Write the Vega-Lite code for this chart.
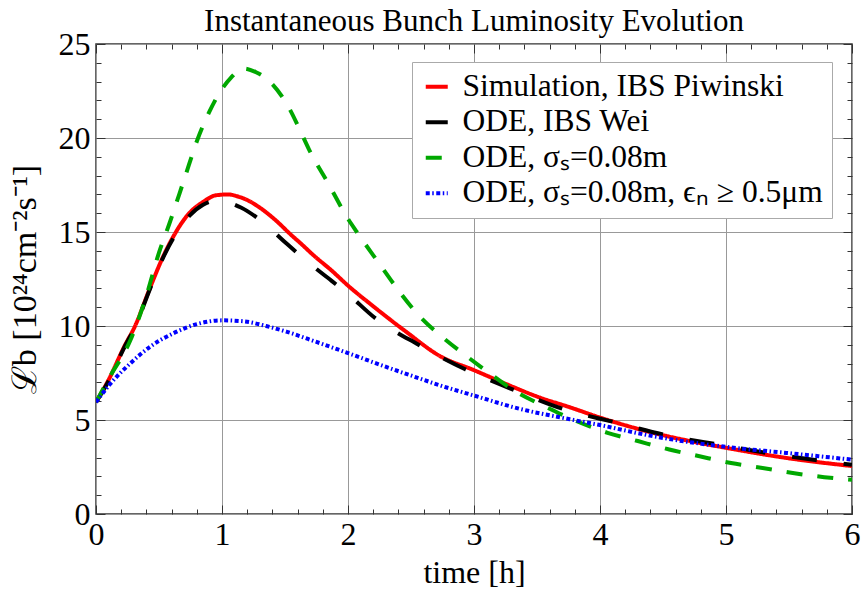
{
  "$schema": "https://vega.github.io/schema/vega-lite/v6.json",
  "width": 756,
  "height": 470,
  "autosize": {"type": "none"},
  "padding": {"left": 96, "top": 44, "right": 13, "bottom": 84},
  "background": "white",
  "config": {
    "font": "Liberation Serif",
    "view": {"stroke": "#333333", "strokeWidth": 1.5},
    "axis": {"tickColor": "#333333", "tickWidth": 1, "domain": false, "labelFlush": false, "labelOverlap": false}
  },
  "title": {
    "text": "Instantaneous Bunch Luminosity Evolution",
    "font": "Liberation Serif",
    "fontSize": 31,
    "fontWeight": "normal",
    "color": "#000000",
    "offset": -10
  },
  "datasets": {
    "curves": [
      {"t": 0, "L": 5.95, "series": "Simulation, IBS Piwinski"},
      {"t": 0.11, "L": 7.27, "series": "Simulation, IBS Piwinski"},
      {"t": 0.22, "L": 8.85, "series": "Simulation, IBS Piwinski"},
      {"t": 0.31, "L": 10.0, "series": "Simulation, IBS Piwinski"},
      {"t": 0.43, "L": 12.05, "series": "Simulation, IBS Piwinski"},
      {"t": 0.53, "L": 13.65, "series": "Simulation, IBS Piwinski"},
      {"t": 0.63, "L": 14.95, "series": "Simulation, IBS Piwinski"},
      {"t": 0.74, "L": 16.0, "series": "Simulation, IBS Piwinski"},
      {"t": 0.85, "L": 16.6, "series": "Simulation, IBS Piwinski"},
      {"t": 0.95, "L": 16.95, "series": "Simulation, IBS Piwinski"},
      {"t": 1.05, "L": 17.0, "series": "Simulation, IBS Piwinski"},
      {"t": 1.12, "L": 16.9, "series": "Simulation, IBS Piwinski"},
      {"t": 1.2, "L": 16.7, "series": "Simulation, IBS Piwinski"},
      {"t": 1.32, "L": 16.2, "series": "Simulation, IBS Piwinski"},
      {"t": 1.43, "L": 15.6, "series": "Simulation, IBS Piwinski"},
      {"t": 1.54, "L": 14.9, "series": "Simulation, IBS Piwinski"},
      {"t": 1.64, "L": 14.3, "series": "Simulation, IBS Piwinski"},
      {"t": 1.72, "L": 13.8, "series": "Simulation, IBS Piwinski"},
      {"t": 1.87, "L": 12.95, "series": "Simulation, IBS Piwinski"},
      {"t": 2.0, "L": 12.15, "series": "Simulation, IBS Piwinski"},
      {"t": 2.2, "L": 11.05, "series": "Simulation, IBS Piwinski"},
      {"t": 2.46, "L": 9.7, "series": "Simulation, IBS Piwinski"},
      {"t": 2.73, "L": 8.4, "series": "Simulation, IBS Piwinski"},
      {"t": 3.0, "L": 7.65, "series": "Simulation, IBS Piwinski"},
      {"t": 3.26, "L": 6.9, "series": "Simulation, IBS Piwinski"},
      {"t": 3.52, "L": 6.2, "series": "Simulation, IBS Piwinski"},
      {"t": 3.75, "L": 5.7, "series": "Simulation, IBS Piwinski"},
      {"t": 4.0, "L": 5.13, "series": "Simulation, IBS Piwinski"},
      {"t": 4.42, "L": 4.32, "series": "Simulation, IBS Piwinski"},
      {"t": 4.7, "L": 3.9, "series": "Simulation, IBS Piwinski"},
      {"t": 5.0, "L": 3.52, "series": "Simulation, IBS Piwinski"},
      {"t": 5.48, "L": 2.98, "series": "Simulation, IBS Piwinski"},
      {"t": 6.0, "L": 2.55, "series": "Simulation, IBS Piwinski"},

      {"t": 0, "L": 5.95, "series": "ODE, IBS Wei"},
      {"t": 0.11, "L": 7.2, "series": "ODE, IBS Wei"},
      {"t": 0.22, "L": 8.8, "series": "ODE, IBS Wei"},
      {"t": 0.31, "L": 9.95, "series": "ODE, IBS Wei"},
      {"t": 0.43, "L": 12.0, "series": "ODE, IBS Wei"},
      {"t": 0.53, "L": 13.6, "series": "ODE, IBS Wei"},
      {"t": 0.63, "L": 14.85, "series": "ODE, IBS Wei"},
      {"t": 0.74, "L": 15.85, "series": "ODE, IBS Wei"},
      {"t": 0.85, "L": 16.45, "series": "ODE, IBS Wei"},
      {"t": 0.94, "L": 16.65, "series": "ODE, IBS Wei"},
      {"t": 1.03, "L": 16.6, "series": "ODE, IBS Wei"},
      {"t": 1.15, "L": 16.3, "series": "ODE, IBS Wei"},
      {"t": 1.31, "L": 15.6, "series": "ODE, IBS Wei"},
      {"t": 1.51, "L": 14.4, "series": "ODE, IBS Wei"},
      {"t": 1.7, "L": 13.3, "series": "ODE, IBS Wei"},
      {"t": 1.87, "L": 12.4, "series": "ODE, IBS Wei"},
      {"t": 2.0, "L": 11.7, "series": "ODE, IBS Wei"},
      {"t": 2.21, "L": 10.45, "series": "ODE, IBS Wei"},
      {"t": 2.56, "L": 9.0, "series": "ODE, IBS Wei"},
      {"t": 2.93, "L": 7.7, "series": "ODE, IBS Wei"},
      {"t": 3.28, "L": 6.7, "series": "ODE, IBS Wei"},
      {"t": 3.7, "L": 5.6, "series": "ODE, IBS Wei"},
      {"t": 4.13, "L": 4.86, "series": "ODE, IBS Wei"},
      {"t": 4.52, "L": 4.2, "series": "ODE, IBS Wei"},
      {"t": 4.95, "L": 3.68, "series": "ODE, IBS Wei"},
      {"t": 5.37, "L": 3.2, "series": "ODE, IBS Wei"},
      {"t": 5.77, "L": 2.82, "series": "ODE, IBS Wei"},
      {"t": 6.0, "L": 2.62, "series": "ODE, IBS Wei"},

      {"t": 0, "L": 5.95, "series": "ODE, σₛ=0.08m"},
      {"t": 0.11, "L": 7.3, "series": "ODE, σₛ=0.08m"},
      {"t": 0.27, "L": 9.2, "series": "ODE, σₛ=0.08m"},
      {"t": 0.39, "L": 11.4, "series": "ODE, σₛ=0.08m"},
      {"t": 0.5, "L": 13.9, "series": "ODE, σₛ=0.08m"},
      {"t": 0.58, "L": 15.4, "series": "ODE, σₛ=0.08m"},
      {"t": 0.7, "L": 17.8, "series": "ODE, σₛ=0.08m"},
      {"t": 0.81, "L": 20.0, "series": "ODE, σₛ=0.08m"},
      {"t": 0.9, "L": 21.4, "series": "ODE, σₛ=0.08m"},
      {"t": 0.98, "L": 22.4, "series": "ODE, σₛ=0.08m"},
      {"t": 1.07, "L": 23.2, "series": "ODE, σₛ=0.08m"},
      {"t": 1.17, "L": 23.7, "series": "ODE, σₛ=0.08m"},
      {"t": 1.27, "L": 23.5, "series": "ODE, σₛ=0.08m"},
      {"t": 1.38, "L": 23.0, "series": "ODE, σₛ=0.08m"},
      {"t": 1.54, "L": 21.5, "series": "ODE, σₛ=0.08m"},
      {"t": 1.62, "L": 20.4, "series": "ODE, σₛ=0.08m"},
      {"t": 1.69, "L": 19.4, "series": "ODE, σₛ=0.08m"},
      {"t": 1.85, "L": 17.5, "series": "ODE, σₛ=0.08m"},
      {"t": 2.0, "L": 15.7, "series": "ODE, σₛ=0.08m"},
      {"t": 2.07, "L": 15.0, "series": "ODE, σₛ=0.08m"},
      {"t": 2.25, "L": 13.3, "series": "ODE, σₛ=0.08m"},
      {"t": 2.4, "L": 11.9, "series": "ODE, σₛ=0.08m"},
      {"t": 2.57, "L": 10.5, "series": "ODE, σₛ=0.08m"},
      {"t": 2.75, "L": 9.4, "series": "ODE, σₛ=0.08m"},
      {"t": 2.94, "L": 8.4, "series": "ODE, σₛ=0.08m"},
      {"t": 3.1, "L": 7.6, "series": "ODE, σₛ=0.08m"},
      {"t": 3.31, "L": 6.6, "series": "ODE, σₛ=0.08m"},
      {"t": 3.6, "L": 5.6, "series": "ODE, σₛ=0.08m"},
      {"t": 3.81, "L": 4.95, "series": "ODE, σₛ=0.08m"},
      {"t": 4.06, "L": 4.32, "series": "ODE, σₛ=0.08m"},
      {"t": 4.3, "L": 3.88, "series": "ODE, σₛ=0.08m"},
      {"t": 4.55, "L": 3.43, "series": "ODE, σₛ=0.08m"},
      {"t": 4.79, "L": 3.07, "series": "ODE, σₛ=0.08m"},
      {"t": 5.04, "L": 2.71, "series": "ODE, σₛ=0.08m"},
      {"t": 5.29, "L": 2.45, "series": "ODE, σₛ=0.08m"},
      {"t": 5.53, "L": 2.18, "series": "ODE, σₛ=0.08m"},
      {"t": 5.78, "L": 1.96, "series": "ODE, σₛ=0.08m"},
      {"t": 6.0, "L": 1.82, "series": "ODE, σₛ=0.08m"},

      {"t": 0, "L": 5.95, "series": "ODE, σₛ=0.08m, ϵₙ ≥ 0.5μm"},
      {"t": 0.11, "L": 6.9, "series": "ODE, σₛ=0.08m, ϵₙ ≥ 0.5μm"},
      {"t": 0.27, "L": 8.0, "series": "ODE, σₛ=0.08m, ϵₙ ≥ 0.5μm"},
      {"t": 0.43, "L": 8.9, "series": "ODE, σₛ=0.08m, ϵₙ ≥ 0.5μm"},
      {"t": 0.61, "L": 9.6, "series": "ODE, σₛ=0.08m, ϵₙ ≥ 0.5μm"},
      {"t": 0.8, "L": 10.1, "series": "ODE, σₛ=0.08m, ϵₙ ≥ 0.5μm"},
      {"t": 1.0, "L": 10.3, "series": "ODE, σₛ=0.08m, ϵₙ ≥ 0.5μm"},
      {"t": 1.17, "L": 10.25, "series": "ODE, σₛ=0.08m, ϵₙ ≥ 0.5μm"},
      {"t": 1.35, "L": 10.0, "series": "ODE, σₛ=0.08m, ϵₙ ≥ 0.5μm"},
      {"t": 1.51, "L": 9.7, "series": "ODE, σₛ=0.08m, ϵₙ ≥ 0.5μm"},
      {"t": 1.75, "L": 9.15, "series": "ODE, σₛ=0.08m, ϵₙ ≥ 0.5μm"},
      {"t": 2.0, "L": 8.56, "series": "ODE, σₛ=0.08m, ϵₙ ≥ 0.5μm"},
      {"t": 2.25, "L": 7.95, "series": "ODE, σₛ=0.08m, ϵₙ ≥ 0.5μm"},
      {"t": 2.52, "L": 7.32, "series": "ODE, σₛ=0.08m, ϵₙ ≥ 0.5μm"},
      {"t": 2.75, "L": 6.8, "series": "ODE, σₛ=0.08m, ϵₙ ≥ 0.5μm"},
      {"t": 3.0, "L": 6.3, "series": "ODE, σₛ=0.08m, ϵₙ ≥ 0.5μm"},
      {"t": 3.36, "L": 5.6, "series": "ODE, σₛ=0.08m, ϵₙ ≥ 0.5μm"},
      {"t": 3.76, "L": 5.04, "series": "ODE, σₛ=0.08m, ϵₙ ≥ 0.5μm"},
      {"t": 4.0, "L": 4.73, "series": "ODE, σₛ=0.08m, ϵₙ ≥ 0.5μm"},
      {"t": 4.42, "L": 4.14, "series": "ODE, σₛ=0.08m, ϵₙ ≥ 0.5μm"},
      {"t": 5.0, "L": 3.57, "series": "ODE, σₛ=0.08m, ϵₙ ≥ 0.5μm"},
      {"t": 5.48, "L": 3.25, "series": "ODE, σₛ=0.08m, ϵₙ ≥ 0.5μm"},
      {"t": 6.0, "L": 2.89, "series": "ODE, σₛ=0.08m, ϵₙ ≥ 0.5μm"}
    ]
  },
  "data": {"name": "curves"},
  "layer": [
    {
      "mark": {"type": "line", "interpolate": "monotone", "strokeCap": "butt", "clip": true},
      "encoding": {
        "x": {
          "field": "t", "type": "quantitative",
          "scale": {"domain": [0, 6], "nice": false, "zero": false},
          "axis": {
            "orient": "bottom",
            "values": [0, 1, 2, 3, 4, 5, 6],
            "format": "d",
            "labelFont": "Liberation Serif",
            "labelFontSize": 32,
            "labelColor": "#000000",
            "labelPadding": 14,
            "tickSize": -9,
            "grid": true,
            "gridColor": "#999999",
            "gridWidth": 1,
            "title": "time [h]",
            "titleFont": "Liberation Serif",
            "titleFontSize": 32,
            "titleFontWeight": "normal",
            "titleColor": "#000000",
            "titlePadding": 7
          }
        },
        "y": {
          "field": "L", "type": "quantitative",
          "scale": {"domain": [0, 25], "nice": false},
          "axis": {
            "orient": "left",
            "values": [0, 5, 10, 15, 20, 25],
            "format": "d",
            "labelFont": "Liberation Serif",
            "labelFontSize": 32,
            "labelColor": "#000000",
            "labelPadding": 15,
            "tickSize": -9,
            "grid": true,
            "gridColor": "#999999",
            "gridWidth": 1,
            "title": "ℒb [10²⁴cm⁻²s⁻¹]",
            "titleFont": "Liberation Serif",
            "titleFontSize": 34,
            "titleFontWeight": "normal",
            "titleColor": "#000000",
            "titlePadding": 16
          }
        },
        "color": {
          "field": "series", "type": "nominal",
          "scale": {
            "domain": ["Simulation, IBS Piwinski", "ODE, IBS Wei", "ODE, σₛ=0.08m", "ODE, σₛ=0.08m, ϵₙ ≥ 0.5μm"],
            "range": ["#ff0000", "#000000", "#00a800", "#0000ff"]
          },
          "legend": {
            "title": null,
            "orient": "none",
            "legendX": 316,
            "legendY": 18,
            "fillColor": "#ffffff",
            "strokeColor": "#aaaaaa",
            "padding": 9,
            "cornerRadius": 0,
            "symbolType": "stroke",
            "symbolSize": 484,
            "symbolStrokeWidth": 4,
            "labelFont": "Liberation Serif",
            "labelFontSize": 31.5,
            "labelColor": "#000000",
            "labelLimit": 600,
            "labelOffset": 10,
            "rowPadding": 2.5
          }
        },
        "strokeDash": {
          "field": "series", "type": "nominal",
          "scale": {
            "domain": ["Simulation, IBS Piwinski", "ODE, IBS Wei", "ODE, σₛ=0.08m", "ODE, σₛ=0.08m, ϵₙ ≥ 0.5μm"],
            "range": [[1, 0], [25, 27], [16, 15], [4, 2.5, 1.5, 2.5]]
          }
        },
        "strokeWidth": {
          "field": "series", "type": "nominal",
          "scale": {
            "domain": ["Simulation, IBS Piwinski", "ODE, IBS Wei", "ODE, σₛ=0.08m", "ODE, σₛ=0.08m, ϵₙ ≥ 0.5μm"],
            "range": [4, 4, 4, 3.5]
          }
        }
      }
    },
    {
      "mark": {"type": "line", "opacity": 0},
      "encoding": {
        "x": {
          "field": "t", "type": "quantitative",
          "axis": {
            "orient": "bottom",
            "values": [0.2, 0.4, 0.6, 0.8, 1.2, 1.4, 1.6, 1.8, 2.2, 2.4, 2.6, 2.8, 3.2, 3.4, 3.6, 3.8, 4.2, 4.4, 4.6, 4.8, 5.2, 5.4, 5.6, 5.8],
            "tickCount": 40,
            "labels": false,
            "grid": false,
            "title": null,
            "tickSize": -5
          }
        },
        "y": {
          "field": "L", "type": "quantitative",
          "axis": {
            "orient": "left",
            "values": [1, 2, 3, 4, 6, 7, 8, 9, 11, 12, 13, 14, 16, 17, 18, 19, 21, 22, 23, 24],
            "tickCount": 40,
            "labels": false,
            "grid": false,
            "title": null,
            "tickSize": -5
          }
        }
      }
    },
    {
      "mark": {"type": "line", "opacity": 0},
      "encoding": {
        "x": {
          "field": "t", "type": "quantitative",
          "axis": {
            "orient": "top",
            "values": [0, 1, 2, 3, 4, 5, 6],
            "labels": false,
            "grid": false,
            "title": null,
            "tickSize": -9
          }
        },
        "y": {
          "field": "L", "type": "quantitative",
          "axis": {
            "orient": "right",
            "values": [0, 5, 10, 15, 20, 25],
            "labels": false,
            "grid": false,
            "title": null,
            "tickSize": -9
          }
        }
      }
    },
    {
      "mark": {"type": "line", "opacity": 0},
      "encoding": {
        "x": {
          "field": "t", "type": "quantitative",
          "axis": {
            "orient": "top",
            "values": [0.2, 0.4, 0.6, 0.8, 1.2, 1.4, 1.6, 1.8, 2.2, 2.4, 2.6, 2.8, 3.2, 3.4, 3.6, 3.8, 4.2, 4.4, 4.6, 4.8, 5.2, 5.4, 5.6, 5.8],
            "tickCount": 40,
            "labels": false,
            "grid": false,
            "title": null,
            "tickSize": -5
          }
        },
        "y": {
          "field": "L", "type": "quantitative",
          "axis": {
            "orient": "right",
            "values": [1, 2, 3, 4, 6, 7, 8, 9, 11, 12, 13, 14, 16, 17, 18, 19, 21, 22, 23, 24],
            "tickCount": 40,
            "labels": false,
            "grid": false,
            "title": null,
            "tickSize": -5
          }
        }
      }
    }
  ],
  "resolve": {"axis": {"x": "independent", "y": "independent"}}
}
